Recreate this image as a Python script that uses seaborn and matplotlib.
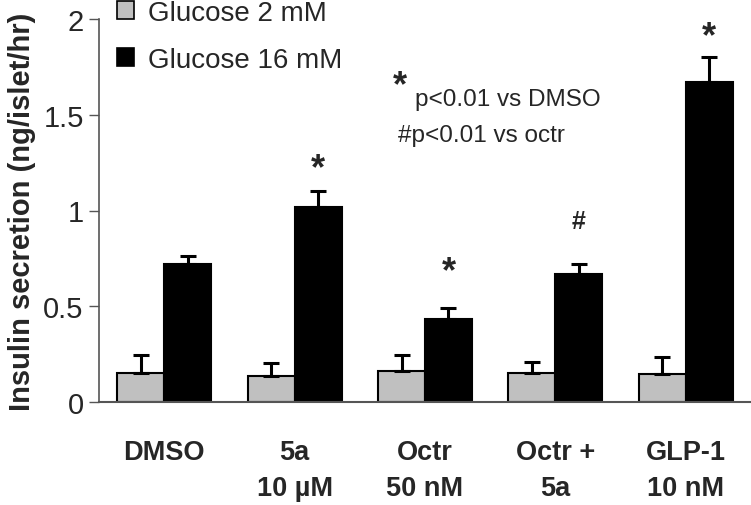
import numpy as np
import pandas as pd
import matplotlib
matplotlib.use("Agg")
import matplotlib.pyplot as plt
from matplotlib.patches import Patch
import seaborn as sns

# datos
grupos = ["DMSO\n", "5a\n10 µM", "Octr\n50 nM", "Octr +\n5a", "GLP-1\n10 nM"]
glucosa = ["Glucose 2 mM", "Glucose 16 mM"]
media_2mM = [0.154, 0.136, 0.163, 0.152, 0.145]
error_2mM = [0.090, 0.067, 0.080, 0.058, 0.090]
media_16mM = [0.72, 1.02, 0.435, 0.67, 1.67]
error_16mM = [0.040, 0.080, 0.055, 0.050, 0.130]

# marcas de significancia (grupo, altura)
estrellas = [(1, 1.22), (2, 0.68), (4, 1.91)]
almohadillas = [(3, 0.945)]

df = pd.DataFrame({
    "grupo": grupos * 2,
    "glucosa": [glucosa[0]] * 5 + [glucosa[1]] * 5,
    "valor": media_2mM + media_16mM,
})

sns.set_style("white")
plt.rcParams["font.family"] = ["Liberation Sans", "DejaVu Sans"]

fig = plt.figure(figsize=(7.51, 5.06), dpi=100)
ax = fig.add_axes([99 / 751, 1 - 403 / 506, 1 - 99 / 751, (403 - 20) / 506])

colores = {"Glucose 2 mM": "#c0c0c0", "Glucose 16 mM": "#000000"}
sns.barplot(data=df, x="grupo", y="valor", hue="glucosa", palette=colores,
            errorbar=None, width=0.72, edgecolor="black", linewidth=1.5,
            legend=False, ax=ax)

# barras de error solo hacia arriba
barras = ax.patches[:10]
errores = error_2mM + error_16mM
for b, e in zip(barras, errores):
    xc = b.get_x() + b.get_width() / 2
    ax.errorbar(xc, b.get_height(), yerr=[[0], [e]], fmt="none",
                ecolor="black", elinewidth=2.2, capsize=6, capthick=2.2, zorder=1)

# asteriscos y almohadillas sobre las barras negras
negras = barras[5:]
for g, y in estrellas:
    b = negras[g]
    ax.text(b.get_x() + b.get_width() / 2, y, "*", ha="center", va="center",
            fontsize=26, fontweight="bold")
for g, y in almohadillas:
    b = negras[g]
    ax.text(b.get_x() + b.get_width() / 2, y, "#", ha="center", va="center",
            fontsize=18, fontweight="bold")

ax.set_ylim(0, 2)
ax.set_xlim(-0.5, 4.5)
ax.set_yticks([0, 0.5, 1, 1.5, 2])
ax.set_yticklabels(["0", "0.5", "1", "1.5", "2"])
ax.set_xlabel("")
ax.set_ylabel("Insulin secretion (ng/islet/hr)", fontsize=21,
              fontweight="bold", labelpad=5)

ax.tick_params(axis="y", left=True, length=7, width=1, color="#555555",
               labelsize=21, pad=4)
ax.tick_params(axis="x", bottom=False, labelsize=19.5, pad=23)
for t in ax.get_xticklabels():
    t.set_fontweight("bold")
    t.set_linespacing(1.5)
    t.set_va("top")

sns.despine(ax=ax, top=True, right=True)
ax.spines["left"].set_color("#555555")
ax.spines["bottom"].set_color("#555555")
ax.spines["left"].set_linewidth(1.2)
ax.spines["bottom"].set_linewidth(1.5)

# leyenda
handles = [Patch(facecolor=colores[g], edgecolor="black", linewidth=1.2, label=g)
           for g in glucosa]
fig.legend(handles=handles, loc="upper left", bbox_to_anchor=(117 / 751, 1.0 - 1 / 506),
           frameon=False, fontsize=20, handlelength=0.6, handleheight=0.6,
           handletextpad=0.5, labelspacing=0.75, borderpad=0, borderaxespad=0)

# texto de significancia
fig.text(400 / 751, 1 - 87 / 506, "*", ha="center", va="center",
         fontsize=26, fontweight="bold")
fig.text(415 / 751, 1 - 106 / 506, "p<0.01 vs DMSO", ha="left", va="baseline",
         fontsize=17.5)
fig.text(398 / 751, 1 - 142 / 506, "#p<0.01 vs octr", ha="left", va="baseline",
         fontsize=17.5)

fig.savefig("out.png", dpi=100)
